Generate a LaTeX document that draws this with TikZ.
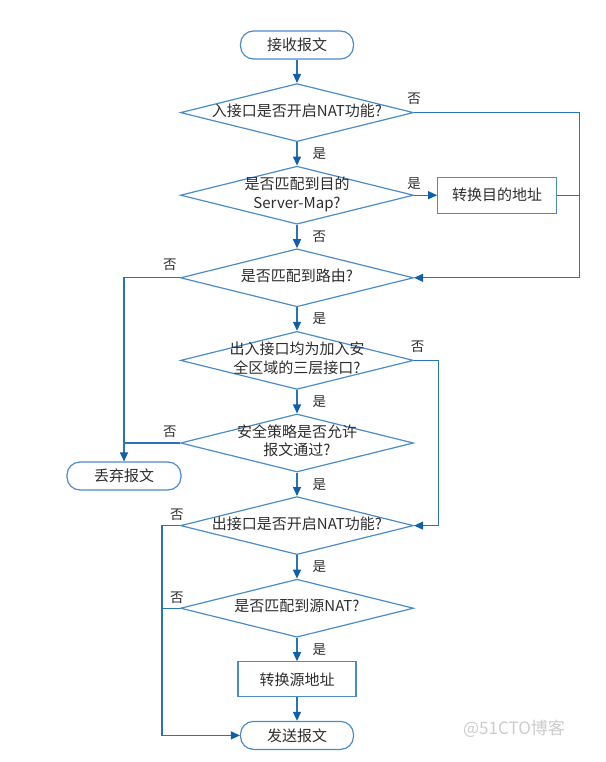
\documentclass[tikz,border=0pt]{standalone}
\usepackage{fontspec}
\usepackage{xcolor}
\usepackage{tikz}
\usetikzlibrary{positioning, shapes.geometric, arrows.meta}
\newfontfamily\cjk{Noto Sans CJK SC}
\definecolor{linecolor}{RGB}{40,115,185}
\definecolor{boxborder}{RGB}{75,140,200}
\definecolor{tipcolor}{RGB}{15,95,170}
\definecolor{textcolor}{RGB}{45,45,45}
\newcommand{\dtext}[1]{\makebox[0pt]{\begin{tabular}{@{}c@{}}#1\end{tabular}}}

\begin{document}
\begin{tikzpicture}[
    x=1pt, y=-1pt,
    node distance=23.4pt,
    font=\cjk\fontsize{15}{18.5}\selectfont,
    text=textcolor,
    line/.style={draw=linecolor, line width=1.2pt},
    arrow/.style={line, -{Triangle[length=9pt, width=8pt, color=tipcolor]}},
    terminal/.style={
        rectangle,
        rounded corners=13pt,
        draw=boxborder,
        line width=1.2pt,
        minimum width=113pt,
        minimum height=28pt,
        inner sep=0pt
    },
    process/.style={
        rectangle,
        draw=boxborder,
        line width=1.2pt,
        minimum width=118pt,
        minimum height=35pt,
        inner sep=0pt
    },
    decision/.style={
        diamond,
        draw=boxborder,
        line width=1.2pt,
        minimum width=233pt,
        minimum height=58pt,
        inner sep=0pt
    },
    answer/.style={font=\cjk\fontsize{13.5}{16}\selectfont, inner sep=1pt}
]
\useasboundingbox (0,0) rectangle (605,762);

%% MAIN COLUMN %%
\node (start) [terminal] at (297,45) {接收报文};

\node (d1) [decision, below=of start] {\dtext{入接口是否开启NAT功能?}};

\node (d2) [decision, below=of d1] {\dtext{是否匹配到目的\\Server-Map?}};

\node (d3) [decision, below=of d2] {\dtext{是否匹配到路由?}};

\node (d4) [decision, below=of d3] {\dtext{出入接口均为加入安\\全区域的三层接口?}};

\node (d5) [decision, below=of d4] {\dtext{安全策略是否允许\\报文通过?}};

\node (d6) [decision, below=of d5] {\dtext{出接口是否开启NAT功能?}};

\node (d7) [decision, below=of d6] {\dtext{是否匹配到源NAT?}};

\node (srcaddr) [process, below=of d7] {转换源地址};

\node (stop) [terminal, below=of srcaddr] {发送报文};

%% SIDE NODES %%
\node (dstaddr) [process, right=23pt of d2, minimum width=119pt, minimum height=36pt] {转换目的地址};

\node (discard) [terminal, minimum width=114pt] at (124,476) {丢弃报文};

\node (watermark) [text=black!20, font=\cjk\fontsize{17}{19}\selectfont] at (514,729) {@51CTO博客};

%% ARROWS %%
\draw [arrow] (start) -- (d1);
\draw [arrow] (d1) -- node[answer, right=14pt] {是} (d2);
\draw [arrow] (d2) -- node[answer, right=14pt] {否} (d3);
\draw [arrow] (d3) -- node[answer, right=14pt] {是} (d4);
\draw [arrow] (d4) -- node[answer, right=14pt] {是} (d5);
\draw [arrow] (d5) -- node[answer, right=14pt] {是} (d6);
\draw [arrow] (d6) -- node[answer, right=14pt] {是} (d7);
\draw [arrow] (d7) -- node[answer, right=14pt] {是} (srcaddr);
\draw [arrow] (srcaddr) -- (stop);

% right side
\draw [arrow] (d1.east) -- node[answer, pos=0, above=6pt] {否} ++(165,0) coordinate (loop) |- (d3.east);
\draw [arrow] (d2) -- node[answer, pos=0, above=4pt] {是} (dstaddr);
\draw [line] (dstaddr.east) -- (dstaddr.east -| loop);
\draw [arrow] (d4.east) -- node[answer, pos=0.15, above=6pt] {否} ++(24,0) |- (d6.east);

% left side
\draw [arrow] (d3.west) -| node[answer, pos=0.09, above=6pt] {否} (discard.north);
\draw [line] (d5.west) -- node[answer, pos=0.18, above=4pt] {否} (d5.west -| discard.north);
\draw [arrow] (d6.west) -- node[answer, pos=0.17, above=3pt] {否} ++(-18,0) |- (stop.west);
\draw [line] (d7.west) -- node[answer, pos=0.17, above=3pt] {否} ++(-18,0);

\end{tikzpicture}
\end{document}
